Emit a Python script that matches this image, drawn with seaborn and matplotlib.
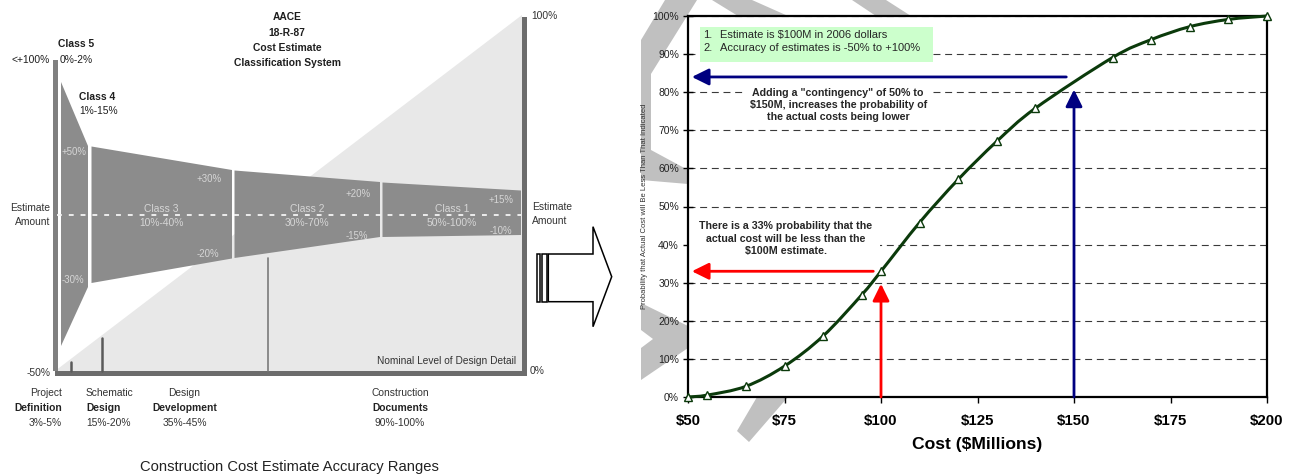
import matplotlib
matplotlib.use("Agg")
import matplotlib.pyplot as plt
from matplotlib import font_manager
from matplotlib.patches import Polygon, Rectangle, PathPatch
from matplotlib.path import Path
import pandas as pd
import seaborn as sns

# ---------------- cumulative cost probability ----------------
cost = [50, 55, 65, 75, 85, 95, 100, 110, 120, 130, 140, 160, 170, 180, 190, 200]
prob = [0, 0.5, 2.8, 8.1, 16.0, 26.8, 33.0, 45.8, 57.1, 67.1, 75.8, 89.1, 93.8, 97.2, 99.1, 100]

x_ticks = [50, 75, 100, 125, 150, 175, 200]
x_tick_labels = ["$50", "$75", "$100", "$125", "$150", "$175", "$200"]
y_ticks = [0, 10, 20, 30, 40, 50, 60, 70, 80, 90, 100]
y_tick_labels = [f"{v}%" for v in y_ticks]

estimate = 100          # $M
p_estimate = 33         # %
contingency = 150       # $M
p_contingency = 84      # %

notes = ["Estimate is $100M in 2006 dollars",
         "Accuracy of estimates is -50% to +100%"]
note_contingency = ('Adding a "contingency" of 50% to\n'
                    '$150M, increases the probability of\n'
                    'the actual costs being lower')
note_estimate = ("There is a 33% probability that the\n"
                 "actual cost will be less than the\n"
                 "$100M estimate.")

# ---------------- AACE classification diagram ----------------
class_names = ["Class 5", "Class 4", "Class 3", "Class 2", "Class 1"]
class_ranges = ["0%-2%", "1%-15%", "10%-40%", "30%-70%", "50%-100%"]
stage_names = [("Project", "Definition", "3%-5%"),
               ("Schematic", "Design", "15%-20%"),
               ("Design", "Development", "35%-45%"),
               ("Construction", "Documents", "90%-100%")]

W, H = 1298, 476
sns.set_theme(style="white")
plt.rcParams["font.family"] = ["Liberation Sans", "DejaVu Sans"]
plt.rcParams["lines.scale_dashes"] = False

installed = {f.name for f in font_manager.fontManager.ttflist}
if "Liberation Sans Narrow" in installed:
    narrow, k, kt = ["Liberation Sans Narrow", "DejaVu Sans"], 1.0, 1.0
else:
    narrow, k, kt = ["Liberation Sans", "DejaVu Sans"], 0.92, 0.82

fig = plt.figure(figsize=(W / 100, H / 100), dpi=100)
fig.patch.set_facecolor("white")

# full-figure canvas in pixel units for the diagram, the connector arrow and the backdrop
bg = fig.add_axes([0, 0, 1, 1], zorder=0)
bg.set_xlim(0, W)
bg.set_ylim(H, 0)
bg.axis("off")

# faint backdrop shapes behind the chart
wm = "#c0c0c0"
for pts in [
    [(665, 0), (697, 0), (641, 90), (641, 40)],
    [(641, 70), (651, 62), (651, 150), (688, 170), (688, 184), (641, 180)],
    [(712, 0), (752, 0), (788, 16), (738, 16)],
    [(852, 0), (886, 0), (911, 16), (876, 16)],
    [(641, 303), (688, 326), (688, 348), (641, 380), (641, 348), (653, 339), (641, 330)],
    [(737, 431), (749, 442), (788, 397), (757, 397)],
]:
    bg.add_patch(Polygon(pts, closed=True, fc=wm, ec="none"))

# design-detail wedge
bg.add_patch(Polygon([(55, 371), (522, 371), (522, 15)], closed=True, fc="#e8e8e8", ec="none"))

band = "#8c8c8c"
class_shapes = [
    [(53, 60), (58, 60), (58, 371), (53, 371)],
    [(61, 82), (88, 146), (88, 287), (61, 346)],
    [(91.5, 146.5), (232, 170), (232, 258.5), (91.5, 283)],
    [(234.5, 170.5), (380, 182), (380, 237), (234.5, 258)],
    [(382.5, 182.5), (521, 190.5), (521, 235), (382.5, 237)],
]
for i, pts in enumerate(class_shapes):
    bg.add_patch(Polygon(pts, closed=True, fc="#808080" if i == 0 else band, ec="none"))

# shadowed frame
bg.add_patch(Rectangle((55, 371), 472, 5, fc="#6c6c6c", ec="none"))
bg.add_patch(Rectangle((522, 17), 5, 359, fc="#6c6c6c", ec="none"))
bg.plot([57, 521], [214.5, 214.5], color="#f4f4f4", lw=1.3, dashes=(3.5, 5))
bg.plot([71, 71], [362, 371], color="#5a5a5a", lw=1.8)
bg.plot([102, 102], [338, 371], color="#5a5a5a", lw=1.8)
bg.plot([268, 268], [258, 371], color="#7a7a7a", lw=1.2)

dark = "#1e1e1e"
light = "#d6d6d6"
fs = 8 * k


def t(x, y, s, ha="center", weight="normal", color=dark, size=fs):
    bg.text(x, y, s, ha=ha, va="center", fontsize=size, fontweight=weight,
            color=color, family=narrow)


for j, line in enumerate(["AACE", "18-R-87", "Cost Estimate", "Classification System"]):
    t(287, 17 + j * 15.5, line, weight="bold")

t(58, 44, class_names[0], ha="left", weight="bold")
t(59.5, 60, class_ranges[0], ha="left")
t(79, 97, class_names[1], ha="left", weight="bold")
t(79, 111, class_ranges[1], ha="left")
for cx, i in [(161, 2), (307, 3), (452, 4)]:
    t(cx, 209, class_names[i], color=light)
    t(cx, 223, class_ranges[i], color=light)

t(50, 60, "<+100%", ha="right")
t(50, 208, "Estimate", ha="right", color="#333333")
t(50, 222, "Amount", ha="right", color="#333333")
t(51, 372.5, "-50%", ha="right", color="#333333")
for x, y, s in [(74, 152, "+50%"), (73, 280, "-30%"), (209, 179, "+30%"), (208, 254, "-20%"),
                (358, 194, "+20%"), (357, 236, "-15%"), (501, 200, "+15%"), (501, 231, "-10%")]:
    t(x, y, s, color=light, size=7.5 * k)
t(531, 16, "100%", ha="left", color="#333333")
t(532, 207, "Estimate", ha="left", color="#333333")
t(532, 221, "Amount", ha="left", color="#333333")
t(530, 371.5, "0%", ha="left", color="#333333")
t(516.5, 361.5, "Nominal Level of Design Detail", ha="right", color="#333333", size=7.9 * k)

for (x, ha), lines in zip([(62, "right"), (86, "left"), (184.5, "center"), (400, "center")], stage_names):
    for j, line in enumerate(lines):
        t(x, 393 + j * 15, line, ha=ha, weight="bold" if j == 1 else "normal",
          color="#222222" if j == 1 else "#333333")

t(289, 466.5, "Construction Cost Estimate Accuracy Ranges", color="#222222", size=13 * kt)

# striped connector arrow
bg.add_patch(Rectangle((536.7, 254), 3.3, 47.7, fc="white", ec="black", lw=1.1))
bg.add_patch(Rectangle((541.7, 254), 5.0, 47.7, fc="white", ec="black", lw=1.1))
bg.add_patch(Polygon([(548.3, 254), (593, 254), (593, 226.7), (611.7, 276.7),
                      (593, 326.7), (593, 301.7), (548.3, 301.7)],
                     closed=True, fc="white", ec="black", lw=1.1))

# ---------------- probability chart ----------------
ax = fig.add_axes([688 / W, 1 - 397 / H, 579 / W, 381 / H], zorder=1)
ax.set_facecolor("white")
ax.set_axisbelow(True)

green = "#0b3a0b"

# smoothed curve through the points (cubic Bezier segments, Catmull-Rom tangents)
n = len(cost)
verts = [(cost[0], prob[0])]
codes = [Path.MOVETO]
for i in range(n - 1):
    x0, y0 = (cost[i - 1], prob[i - 1]) if i > 0 else (cost[i], prob[i])
    x1, y1 = cost[i], prob[i]
    x2, y2 = cost[i + 1], prob[i + 1]
    x3, y3 = (cost[i + 2], prob[i + 2]) if i + 2 < n else (x2, y2)
    verts += [(x1 + (x2 - x0) / 6, y1 + (y2 - y0) / 6),
              (x2 - (x3 - x1) / 6, y2 - (y3 - y1) / 6),
              (x2, y2)]
    codes += [Path.CURVE4] * 3
ax.add_patch(PathPatch(Path(verts, codes), fill=False, ec=green, lw=2.2,
                       capstyle="round", joinstyle="round", zorder=5, clip_on=False))

df = pd.DataFrame({"cost": cost, "prob": prob})
sns.lineplot(data=df, x="cost", y="prob", ax=ax, color=green, linestyle="none",
             marker="^", markersize=5.5, markerfacecolor="white",
             markeredgecolor=green, markeredgewidth=1.0, zorder=6, clip_on=False)

ax.set_xlim(cost[0], cost[-1])
ax.set_ylim(0, 100)
ax.yaxis.grid(True, color="#3a3a3a", lw=0.8, linestyle=(0, (5, 3.4)))
ax.xaxis.grid(False)
for s in ax.spines.values():
    s.set_visible(True)
    s.set_color("black")
    s.set_linewidth(1.6)

ax.set_xticks(x_ticks)
ax.set_xticklabels(x_tick_labels, fontsize=10.8, fontweight="bold", color="black")
ax.set_yticks(y_ticks)
ax.set_yticklabels(y_tick_labels, fontsize=7.5, color="#222222")
ax.tick_params(axis="x", bottom=True, direction="out", length=4, width=1, pad=8, color="black")
ax.tick_params(axis="y", left=True, direction="inout", length=7, width=1, pad=3, color="black")

ax.set_xlabel("Cost ($Millions)", fontsize=12.6, fontweight="bold", color="black")
ax.xaxis.set_label_coords(0.5, -0.104)
ax.set_ylabel("Probability that Actual Cost will Be Less Than That Indicated",
              fontsize=5.5, color="#333333")
ax.yaxis.set_label_coords(-0.069, 0.5)

# notes box
ax.add_patch(Rectangle((53.1, 88.0), 60.3, 9.0, fc="#ccffcc", ec="none", zorder=3))
for i, note in enumerate(notes):
    y = 95.0 - i * 3.5
    ax.text(54.0, y, f"{i + 1}.", fontsize=8, va="center", ha="left", zorder=4)
    ax.text(58.3, y, note, fontsize=8, va="center", ha="left", zorder=4)

# callout backgrounds
ax.add_patch(Rectangle((50, 35.4), 49.8, 13.1, fc="white", ec="none", zorder=2))
ax.add_patch(Rectangle((64.8, 71.5), 48, 10, fc="white", ec="none", zorder=2))
ax.text(75.4, 41.5, note_estimate, fontsize=7.7, fontweight="bold", ha="center",
        va="center", linespacing=1.3, zorder=4)
ax.text(88.9, 76.6, note_contingency, fontsize=7.7, fontweight="bold", ha="center",
        va="center", linespacing=1.25, zorder=4)

style = "-|>,head_length=0.85,head_width=0.42"
for x_val, p_val, col in [(estimate, p_estimate, "#ff0000"), (contingency, p_contingency, "#000080")]:
    ax.annotate("", xy=(x_val, p_val - 3.3), xytext=(x_val, 0),
                arrowprops=dict(arrowstyle=style, color=col, lw=2.0, shrinkA=0, shrinkB=0),
                zorder=5)
    ax.annotate("", xy=(cost[0] + 1.0, p_val), xytext=(x_val - 2, p_val),
                arrowprops=dict(arrowstyle=style, color=col, lw=2.0, shrinkA=0, shrinkB=0),
                zorder=5)

fig.savefig("out.png", dpi=100, facecolor="white")
